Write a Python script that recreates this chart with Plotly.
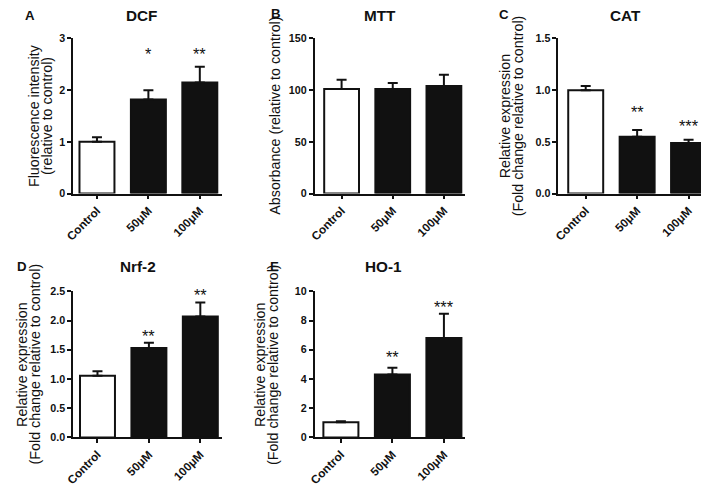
import plotly.graph_objects as go

W, H = 709, 486
# the figure is shown inside a page with an 8px body margin and the whole page is
# scaled back to W x H; these constants map reference-image pixels to figure pixels
OFF = 8
SX = (W + OFF) / W
SY = (H + 2 * OFF) / H
FS = 1.02  # font compensation for the page scaling

categories = ["Control", "50μM", "100μM"]

dcf_mean = [1.0, 1.82, 2.15]
dcf_err = [0.09, 0.18, 0.30]
dcf_sig = ["", "*", "**"]
dcf_sig_y = [None, 2.75, 2.75]

mtt_mean = [101, 101, 104]
mtt_err = [9, 6, 11]
mtt_sig = ["", "", ""]
mtt_sig_y = [None, None, None]

cat_mean = [1.0, 0.55, 0.49]
cat_err = [0.04, 0.065, 0.03]
cat_sig = ["", "**", "***"]
cat_sig_y = [None, 0.82, 0.68]

nrf2_mean = [1.055, 1.53, 2.07]
nrf2_err = [0.075, 0.09, 0.24]
nrf2_sig = ["", "**", "**"]
nrf2_sig_y = [None, 1.79, 2.48]

ho1_mean = [1.04, 4.3, 6.8]
ho1_err = [0.06, 0.47, 1.66]
ho1_sig = ["", "**", "***"]
ho1_sig_y = [None, 5.68, 9.13]

titles = ["DCF", "MTT", "CAT", "Nrf-2", "HO-1"]
letters = ["A", "B", "C", "D", "E"]
ytitles = [
    ["Fluorescence intensity", "(relative to control)"],
    ["Absorbance (relative to control)"],
    ["Relative expression", "(Fold change relative to control)"],
    ["Relative expression", "(Fold change relative to control)"],
    ["Relative expression", "(Fold change relative to control)"],
]
yranges = [[0, 3], [0, 150], [0, 1.5], [0, 2.5], [0, 10]]
ydticks = [1, 50, 0.5, 0.5, 2]
yformats = ["d", "d", ".1f", ".1f", "d"]

means = [dcf_mean, mtt_mean, cat_mean, nrf2_mean, ho1_mean]
errs = [dcf_err, mtt_err, cat_err, nrf2_err, ho1_err]
sigs = [dcf_sig, mtt_sig, cat_sig, nrf2_sig, ho1_sig]
sig_ys = [dcf_sig_y, mtt_sig_y, cat_sig_y, nrf2_sig_y, ho1_sig_y]

# layout in reference pixels: (x0, x1, ytop, ybottom)
boxes = [(64, 213, 32, 186), (306, 457, 32, 186), (550, 702, 32, 186),
         (64, 213, 283, 428), (306, 457, 283, 428)]
xranges = [[-0.466, 2.427], [-0.527, 2.42], [-0.534, 2.417],
           [-0.476, 2.417], [-0.51, 2.417]]
title_pos = [(133, 9), (371, 9), (617, 9), (129, 258), (375, 258)]
letter_pos = [(21, 9), (267, 7), (496, 8), (12.5, 258), (266, 258)]
ytitle_x = [[25, 38], [266], [497, 510], [13.5, 26], [252, 265]]


def fx(x):
    return (x * SX - OFF) / W


def fy(y):
    return 1 - (y * SY - OFF) / H


FONT = "Arial, Liberation Sans, Helvetica, sans-serif"
INK = "#111111"

fig = go.Figure()
annotations = []
layout = {}

for i in range(5):
    n = "" if i == 0 else str(i + 1)
    x0, x1, yt, yb = boxes[i]
    colors = ["white", INK, INK]
    fig.add_trace(go.Bar(
        x=categories, y=means[i],
        marker=dict(color=colors, line=dict(color=INK, width=2)),
        width=0.68,
        error_y=dict(type="data", array=errs[i], arrayminus=[0, 0, 0],
                     symmetric=False, color=INK, thickness=2, width=5),
        xaxis="x" + n, yaxis="y" + n, showlegend=False, hoverinfo="skip",
    ))
    layout["xaxis" + n] = dict(
        domain=[fx(x0), fx(x1)], anchor="y" + n, range=xranges[i],
        type="category", showgrid=False, zeroline=False,
        showline=True, linecolor=INK, linewidth=1.5,
        ticks="outside", ticklen=4, tickwidth=1.5, tickcolor=INK,
        tickangle=-45,
        tickfont=dict(family=FONT, size=11.5 * FS, color=INK, weight="bold"),
    )
    layout["yaxis" + n] = dict(
        domain=[fy(yb), fy(yt)], anchor="x" + n, range=yranges[i],
        dtick=ydticks[i], tickformat=yformats[i], showgrid=False, zeroline=False,
        showline=True, linecolor=INK, linewidth=1.5,
        ticks="outside", ticklen=4, tickwidth=1.5, tickcolor=INK,
        tickfont=dict(family=FONT, size=10.5 * FS, color=INK, weight="bold"),
    )
    for j in range(3):
        if sigs[i][j]:
            annotations.append(dict(
                x=categories[j], y=sig_ys[i][j], xref="x" + n, yref="y" + n,
                text=sigs[i][j], showarrow=False, yanchor="middle", yshift=-3,
                font=dict(family=FONT, size=16 * FS, color=INK),
            ))
    tx, ty = title_pos[i]
    annotations.append(dict(x=fx(tx), y=fy(ty), xref="paper", yref="paper",
                            text="<b>%s</b>" % titles[i], showarrow=False,
                            xanchor="center", yanchor="middle",
                            font=dict(family=FONT, size=15 * FS, color=INK)))
    lx, ly = letter_pos[i]
    annotations.append(dict(x=fx(lx), y=fy(ly), xref="paper", yref="paper",
                            text="<b>%s</b>" % letters[i], showarrow=False,
                            xanchor="center", yanchor="middle",
                            font=dict(family=FONT, size=13 * FS, color=INK)))
    for k, line in enumerate(ytitles[i]):
        annotations.append(dict(x=fx(ytitle_x[i][k]), y=fy((yt + yb) / 2),
                                xref="paper", yref="paper", text=line,
                                showarrow=False, textangle=-90,
                                xanchor="center", yanchor="middle",
                                font=dict(family=FONT, size=14 * FS, color=INK)))

fig.update_layout(
    width=W, height=H, margin=dict(l=0, r=0, t=0, b=0),
    paper_bgcolor="white", plot_bgcolor="white", hovermode=False,
    annotations=annotations, bargap=0.3, **layout,
)

fig.write_html("out.html", config={"displayModeBar": False})
